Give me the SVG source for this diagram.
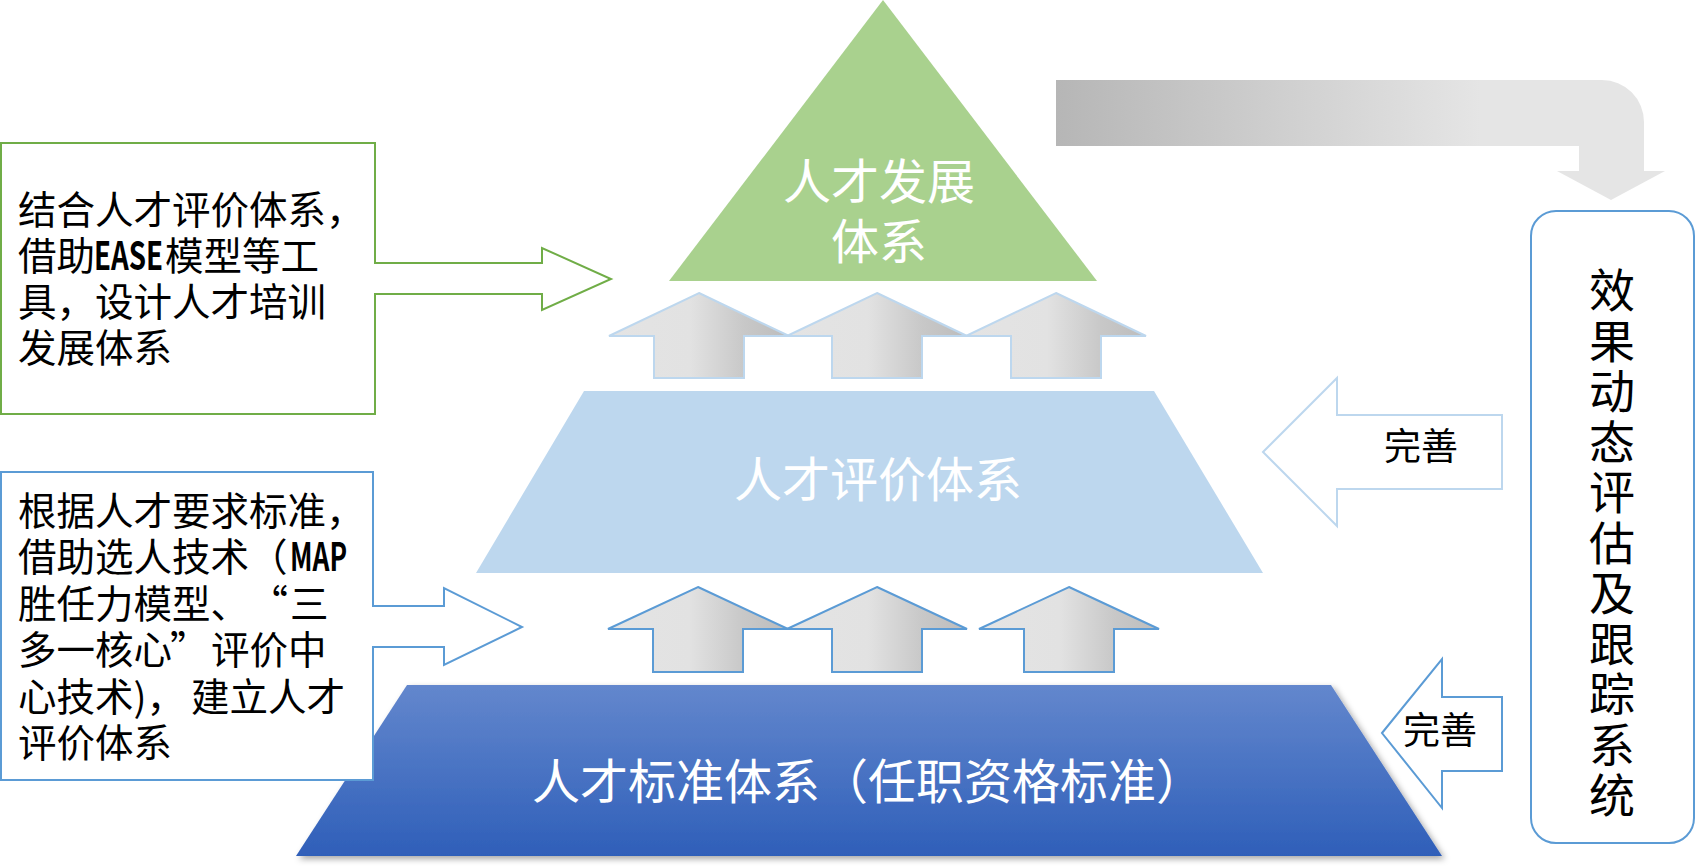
<svg xmlns="http://www.w3.org/2000/svg" width="1696" height="867" viewBox="0 0 1696 867">
<defs>
<linearGradient id="gArrow" x1="0" y1="0" x2="1" y2="0">
<stop offset="0" stop-color="#E4E4E4"/>
<stop offset="0.45" stop-color="#E2E2E2"/>
<stop offset="0.75" stop-color="#C8C8C8"/>
<stop offset="1" stop-color="#BCBCBC"/>
</linearGradient>
<linearGradient id="gBent" gradientUnits="userSpaceOnUse" x1="1056" y1="0" x2="1480" y2="0">
<stop offset="0" stop-color="#B6B6B6"/>
<stop offset="1" stop-color="#E5E5E5"/>
</linearGradient>
<linearGradient id="gBase" x1="0" y1="0" x2="0" y2="1">
<stop offset="0" stop-color="#6387CD"/>
<stop offset="1" stop-color="#2F5FB9"/>
</linearGradient>
<filter id="shadow" x="-5%" y="-10%" width="112%" height="130%">
<feDropShadow dx="3" dy="3" stdDeviation="3" flood-color="#000" flood-opacity="0.35"/>
</filter>
<style>
.cjk{font-family:"Noto Sans CJK SC","Noto Sans CJK JP",sans-serif;}
.white{fill:#FFFFFF;}
.big{font-size:48px;}
.note{font-size:38.5px;fill:#000;}
.latin{font-weight:bold;}
.upL{fill:url(#gArrow);stroke:#BDD7EE;stroke-width:2;}
.upD{fill:url(#gArrow);stroke:#5B9BD5;stroke-width:2;}
.vert{writing-mode:vertical-rl;font-size:46px;letter-spacing:4.5px;fill:#000;}
</style>
</defs>
<rect width="1696" height="867" fill="#FFFFFF"/>

<g id="top-level">
<polygon points="883,0 1097,281 669,281" fill="#A9D18E"/>
<text class="cjk white big" text-anchor="middle"><tspan x="879" y="199">人才发展</tspan><tspan x="879" y="259">体系</tspan></text>
</g>

<g id="mid-level">
<polygon points="584,391 1154,391 1263,573 476,573" fill="#BDD7EE"/>
<text class="cjk white big" x="878" y="497" text-anchor="middle">人才评价体系</text>
</g>

<g id="base-level">
<polygon points="407,685 1331,685 1442,856 296,856" fill="url(#gBase)" filter="url(#shadow)"/>
<text class="cjk white big" x="868" y="799" text-anchor="middle">人才标准体系（任职资格标准）</text>
</g>

<g id="note-top">
<path d="M1,143 H375 V263 H542 V248 L611,279 L542,310 V294 H375 V414 H1 Z" fill="#FFFFFF" stroke="#70AD47" stroke-width="2"/>
<text class="cjk note"><tspan x="18" y="224">结合人才评价体系，</tspan><tspan x="18" y="270">借助</tspan><tspan class="latin" x="94" y="270" textLength="69" lengthAdjust="spacingAndGlyphs">EASE</tspan><tspan x="165" y="270">模型等工</tspan><tspan x="18" y="316">具，设计人才培训</tspan><tspan x="18" y="362">发展体系</tspan></text>
</g>

<g id="note-bottom">
<path d="M1,472 H373 V606 H444 V588 L522,627 L444,665 V647 H373 V780 H1 Z" fill="#FFFFFF" stroke="#5B9BD5" stroke-width="2"/>
<text class="cjk note"><tspan x="18" y="525">根据人才要求标准，</tspan><tspan x="18" y="571">借助选人技术（</tspan><tspan class="latin" x="290" y="571" textLength="57" lengthAdjust="spacingAndGlyphs">MAP</tspan><tspan x="18" y="618">胜任力模型、</tspan><tspan x="249.5" y="618">“</tspan><tspan x="290" y="618">三</tspan><tspan x="18" y="664">多一核心</tspan><tspan x="170" y="664">”</tspan><tspan x="211" y="664">评价中</tspan><tspan x="18" y="711">心技术)，</tspan><tspan x="191" y="711">建立人才</tspan><tspan x="18" y="757">评价体系</tspan></text>
</g>

<g id="tracking-system">
<rect x="1531" y="211" width="163" height="632" rx="25" ry="25" fill="#FFFFFF" stroke="#5B9BD5" stroke-width="2"/>
<text class="cjk vert" x="1612" y="267">效果动态评估及跟踪系统</text>
</g>

<g id="connectors">
<path d="M1056,80 H1602 A42,42 0 0 1 1644,122 V171 H1665 L1611,200 L1557,171 H1579 V146 H1056 Z" fill="url(#gBent)"/>
<path class="upL" d="M699,293 L789,336 H744 V378 H654 V336 H609 Z"/>
<path class="upL" d="M877,293 L967,336 H922 V378 H832 V336 H787 Z"/>
<path class="upL" d="M1056,293 L1146,336 H1101 V378 H1011 V336 H966 Z"/>
<path class="upD" d="M698,587 L788,629 H743 V672 H653 V629 H608 Z"/>
<path class="upD" d="M877,587 L967,629 H922 V672 H832 V629 H787 Z"/>
<path class="upD" d="M1069,587 L1159,629 H1114 V672 H1024 V629 H979 Z"/>
<g id="improve-mid">
<path d="M1263,452 L1337,378 V415 H1502 V489 H1337 V526 Z" fill="#FFFFFF" stroke="#BDD7EE" stroke-width="2"/>
<text class="cjk" font-size="37" fill="#000" x="1421" y="460" text-anchor="middle">完善</text>
</g>
<g id="improve-base">
<path d="M1382,733 L1442,659 V697 H1502 V771 H1442 V808 Z" fill="#FFFFFF" stroke="#5B9BD5" stroke-width="2"/>
<text class="cjk" font-size="37" fill="#000" x="1440" y="744" text-anchor="middle">完善</text>
</g>
</g>
</svg>
